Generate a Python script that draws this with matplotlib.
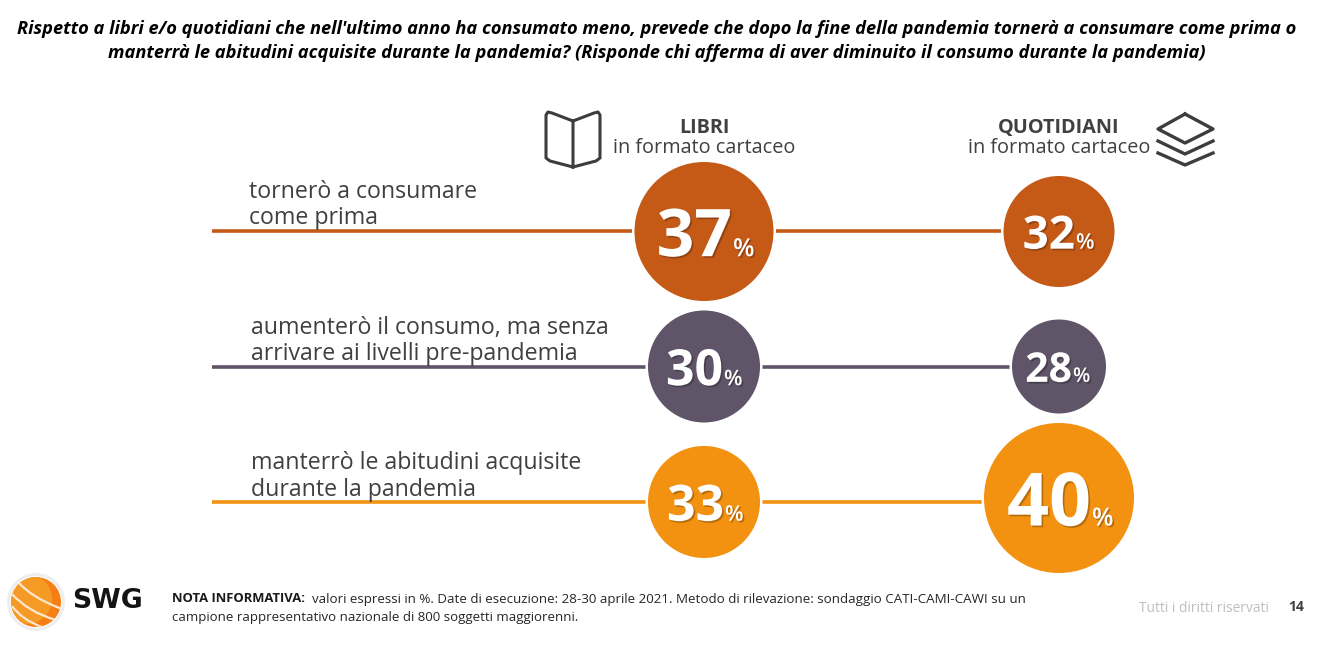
import matplotlib
matplotlib.use("Agg")
import matplotlib.pyplot as plt
import matplotlib.patheffects as pe
from matplotlib.patches import Circle, PathPatch
from matplotlib.path import Path

TITLE = ["Rispetto a libri e/o quotidiani che nell'ultimo anno ha consumato meno, prevede che dopo la fine della pandemia tornerà a consumare come prima o",
         "manterrà le abitudini acquisite durante la pandemia? (Risponde chi afferma di aver diminuito il consumo durante la pandemia)"]
categories = ["tornerò a consumare\ncome prima",
              "aumenterò il consumo, ma senza\narrivare ai livelli pre-pandemia",
              "manterrò le abitudini acquisite\ndurante la pandemia"]
libri = [37, 30, 33]
quotidiani = [32, 28, 40]

colors = ["#C55A17", "#5F5468", "#F39110"]
row_y = [231, 366.5, 502]
line_x0 = 212
x_libri = [704, 704, 704]
x_quot = [1059, 1059, 1059]
y_libri = [231.5, 366.5, 502]
y_quot = [231.5, 366.5, 498]
r_libri = [69.5, 56, 56]
r_quot = [55.5, 47, 75]
fs_libri = [47.5, 36, 36]
fs_quot = [33, 29.5, 53]
fs_pct_libri = [18, 15.5, 15.5]
fs_pct_quot = [15.5, 14.5, 18]
split_libri = [28, 19, 20]
split_quot = [16, 13, 32]
label_x = [249, 251, 251]
label_y = [[192, 218], [328, 354], [463, 490]]
TXT = "#404040"

plt.rcParams['font.family'] = ['Open Sans', 'DejaVu Sans']
fig = plt.figure(figsize=(13.19, 6.58), dpi=100)
ax = fig.add_axes([0, 0, 1, 1])
ax.set_xlim(0, 1319)
ax.set_ylim(658, 0)
ax.axis("off")

for i, t in enumerate(TITLE):
    ax.text(657, 29 + i * 24.5, t, ha="center", va="center", fontsize=13.18,
            fontweight="bold", fontstyle="italic", color="black")

shadow = [pe.withSimplePatchShadow(offset=(1.2, -1.2), shadow_rgbFace="#000000", alpha=0.25)]
for i, cat in enumerate(categories):
    ax.plot([line_x0, x_quot[i]], [row_y[i]] * 2, color=colors[i], lw=2.6, zorder=1, solid_capstyle="butt")
    for j, line in enumerate(cat.split("\n")):
        ax.text(label_x[i], label_y[i][j], line, ha="left", va="center", fontsize=16.7, color=TXT)
    for x, y, r, v, fs, fp, sp in [
            (x_libri[i], y_libri[i], r_libri[i], libri[i], fs_libri[i], fs_pct_libri[i], split_libri[i]),
            (x_quot[i], y_quot[i], r_quot[i], quotidiani[i], fs_quot[i], fs_pct_quot[i], split_quot[i])]:
        ax.add_patch(Circle((x, y), r + 2.5, fc="white", ec="none", zorder=2))
        ax.add_patch(Circle((x, y), r, fc=colors[i], ec="none", zorder=3))
        base = y + fs * 0.52
        ax.text(x + sp, base, f"{v}", ha="right", va="baseline", fontsize=fs,
                fontweight="bold", color="white", zorder=4, path_effects=shadow)
        ax.text(x + sp + 1, base, "%", ha="left", va="baseline", fontsize=fp,
                fontweight="semibold", color="white", zorder=4, path_effects=shadow)

ax.text(704, 128, "LIBRI", ha="center", va="center", fontsize=14.3, fontweight="bold", color=TXT)
ax.text(704, 148, "in formato cartaceo", ha="center", va="center", fontsize=14.3, color=TXT)
ax.text(1059, 128, "QUOTIDIANI", ha="center", va="center", fontsize=14.3, fontweight="bold", color=TXT)
ax.text(1059, 148, "in formato cartaceo", ha="center", va="center", fontsize=14.3, color=TXT)

# book icon
book_x = [573, 552, 548, 546, 546, 550, 573, 596, 600, 600, 598, 594, 573, 573]
book_y = [121, 113, 112, 115, 158, 161, 167, 161, 158, 115, 112, 113, 121, 167]
ax.plot(book_x, book_y, color="#3d3d3d", lw=2.2, solid_joinstyle="round")

# layers icon
ax.plot([1185, 1213, 1185, 1158, 1185], [114, 129, 143, 129, 114], color="#3d3d3d", lw=2.4, solid_joinstyle="round")
ax.plot([1158, 1185, 1213], [141, 154, 141], color="#3d3d3d", lw=2.4)
ax.plot([1158, 1185, 1213], [153, 165, 153], color="#3d3d3d", lw=2.4)

# logo
gx, gy = 36, 602
ax.add_patch(Circle((gx, gy), 27.5, fc="none", ec="#EDEDED", lw=2))
globe = Circle((gx, gy), 25, fc="#F57F14", ec="none")
ax.add_patch(globe)
light = Circle((gx - 9, gy - 3), 25, fc="#F59B25", ec="none")
ax.add_patch(light)
light.set_clip_path(globe)
for (p0, p1, p2) in [((18, 582), (32, 598), (62, 609)),
                     ((12, 594), (28, 612), (56, 620)),
                     ((12, 606), (22, 620), (42, 627))]:
    pp = PathPatch(Path([p0, p1, p2], [Path.MOVETO, Path.CURVE3, Path.CURVE3]),
                   fc="none", ec="#FCE8D0", lw=1.6)
    ax.add_patch(pp)
    pp.set_clip_path(globe)
ax.text(72, 601, "SWG", ha="left", va="center", fontsize=19.3, fontweight="bold", color="#141414",
        family=["DejaVu Sans"])

ax.text(172, 599, "NOTA INFORMATIVA:", ha="left", va="center", fontsize=9.4, fontweight="bold", color="#1a1a1a")
ax.text(312, 599, "valori espressi in %. Date di esecuzione: 28-30 aprile 2021. Metodo di rilevazione: sondaggio CATI-CAMI-CAWI su un",
        ha="left", va="center", fontsize=9.6, color="#262626")
ax.text(172, 618, "campione rappresentativo nazionale di 800 soggetti maggiorenni.", ha="left", va="center", fontsize=9.5, color="#262626")
ax.text(1269, 608, "Tutti i diritti riservati", ha="right", va="center", fontsize=9.9, color="#BFBFBF")
ax.text(1296, 607, "14", ha="center", va="center", fontsize=10, fontweight="bold", color="#404040")

fig.savefig("out.png", dpi=100, facecolor="white")
